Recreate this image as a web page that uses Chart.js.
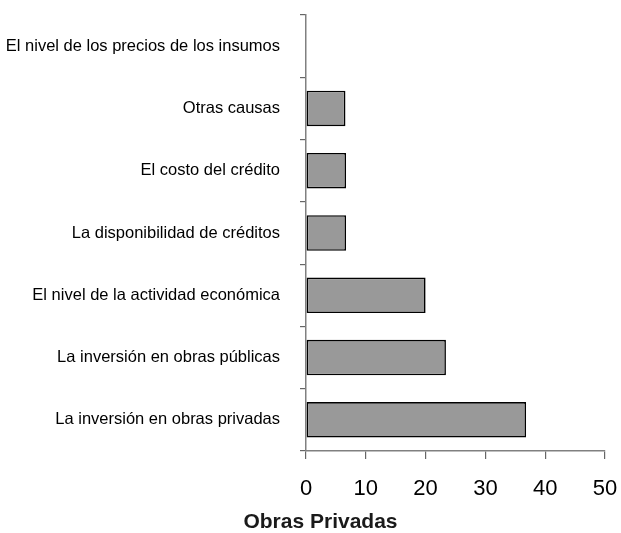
<!DOCTYPE html>
<html>
<head>
<meta charset="utf-8">
<script src="https://cdn.jsdelivr.net/npm/chart.js@4/dist/chart.umd.min.js"></script>
<style>
html,body{margin:0;padding:0;background:#ffffff;}
canvas{display:block;}
</style>
</head>
<body>
<canvas id="c" width="621" height="533"></canvas>
<script>
const categories = [
  'El nivel de los precios de los insumos',
  'Otras causas',
  'El costo del crédito',
  'La disponibilidad de créditos',
  'El nivel de la actividad económica',
  'La inversión en obras públicas',
  'La inversión en obras privadas'
];
const values = [0, 6.6, 6.7, 6.7, 20, 23.4, 36.8];
const xTickValues = [0, 10, 20, 30, 40, 50];
const axisTitle = 'Obras Privadas';

Chart.defaults.font.family = '"Liberation Sans", Arial, sans-serif';
Chart.defaults.color = '#000000';

// shift the bottom title box so it is centred like the original
const titleShift = {
  id: 'titleShift',
  afterLayout(chart) {
    const t = chart.titleBlock;
    if (t) { t.left += 20; t.right += 16; }
  }
};

new Chart(document.getElementById('c'), {
  type: 'bar',
  data: {
    labels: categories,
    datasets: [{
      data: values,
      backgroundColor: '#999999',
      borderColor: '#000000',
      borderWidth: 1.6,
      borderSkipped: false,
      barPercentage: 0.57,
      categoryPercentage: 1.0
    }]
  },
  plugins: [titleShift],
  options: {
    indexAxis: 'y',
    responsive: false,
    animation: false,
    devicePixelRatio: 1,
    layout: { padding: { left: 0, right: 16, top: 15, bottom: 0 } },
    plugins: {
      legend: { display: false },
      tooltip: { enabled: false },
      title: {
        display: true,
        position: 'bottom',
        text: axisTitle,
        color: '#1a1a1a',
        font: { size: 21, weight: 'bold', lineHeight: 1.0 },
        padding: { top: 3, bottom: 0 }
      }
    },
    scales: {
      x: {
        min: xTickValues[0],
        max: xTickValues[xTickValues.length - 1],
        afterBuildTicks: (s) => { s.ticks = xTickValues.map(v => ({ value: v })); },
        afterFit: (s) => { s.height = 58; s.paddingLeft = 0; s.paddingRight = 0; },
        grid: { drawOnChartArea: false, drawTicks: true, tickLength: 8, color: '#666666', lineWidth: 1.2 },
        border: { display: true, color: '#808080', width: 1.5 },
        ticks: { font: { size: 22 }, padding: 17, color: '#000000' }
      },
      y: {
        afterFit: (s) => { s.width = 306; s.paddingTop = 0; s.paddingBottom = 0; },
        grid: { drawOnChartArea: false, drawTicks: true, tickLength: 6, color: '#666666', lineWidth: 1.2, offset: true },
        border: { display: true, color: '#808080', width: 1.5 },
        ticks: { font: { size: 16.5 }, padding: 20, color: '#000000' }
      }
    }
  }
});
</script>
</body>
</html>
